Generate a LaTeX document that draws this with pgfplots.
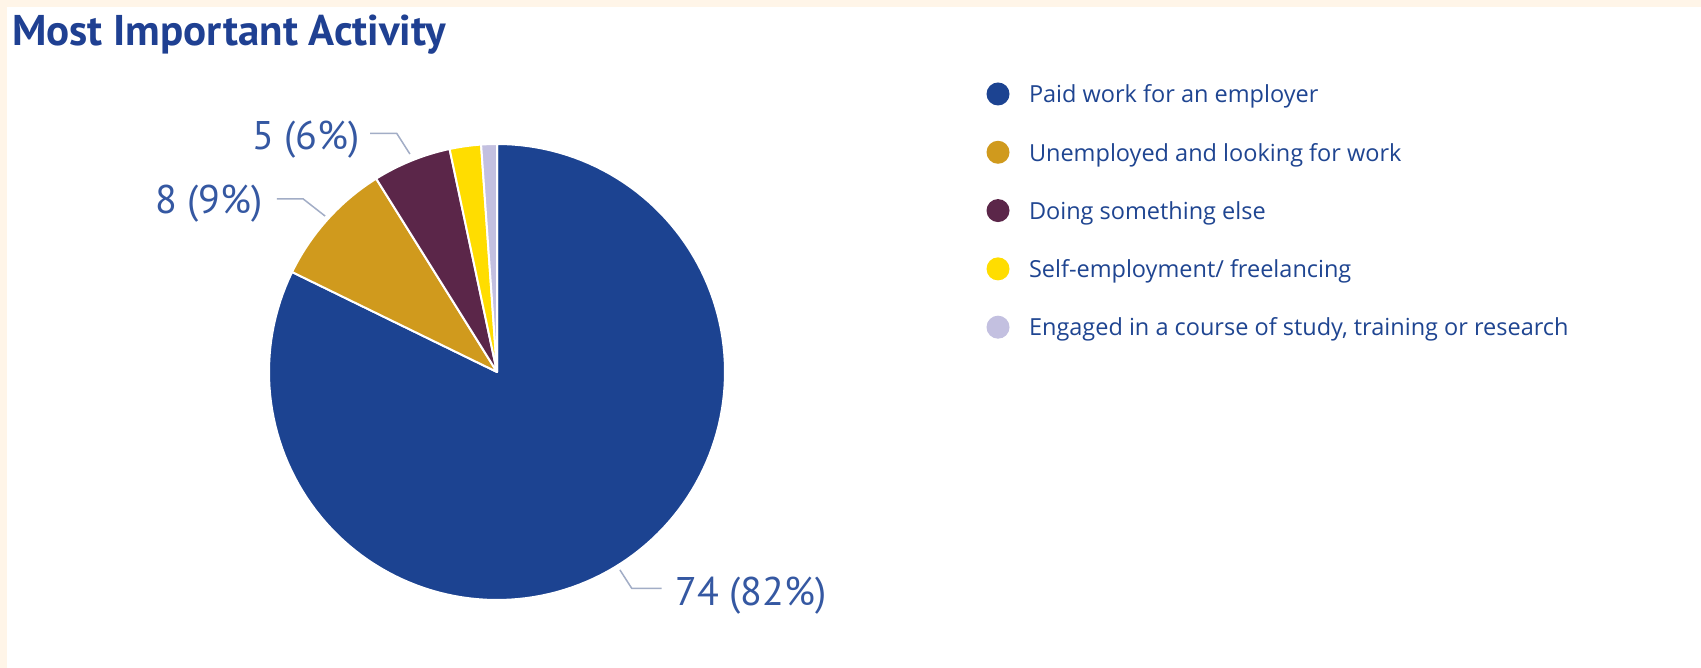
\documentclass[border=0pt]{standalone}
\usepackage{pgfplots}
\pgfplotsset{compat=1.18}
\usepackage{pgfplotstable}
\usepackage{fontspec}
\setmainfont{Open Sans}
\newfontfamily\legendfont{Open Sans}
\newfontfamily\labelfont{PT Sans}
\newfontfamily\titlefont{PT Sans}

\definecolor{slice0}{HTML}{1C4391}
\definecolor{slice1}{HTML}{D09A1D}
\definecolor{slice2}{HTML}{5B2649}
\definecolor{slice3}{HTML}{FFDD00}
\definecolor{slice4}{HTML}{C3C0E0}
\definecolor{cream}{HTML}{FFF5E8}
\definecolor{titleblue}{HTML}{1F4092}
\definecolor{legendblue}{HTML}{1F4591}
\definecolor{labelblue}{HTML}{3558A2}
\definecolor{leader}{HTML}{A2ADC6}

\pgfplotstableread{
value
74
8
5
2
1
}\piedata

\begin{document}
\begin{tikzpicture}
\fill[cream] (0,0) rectangle (1701bp,668bp);
\fill[white] (7bp,0) rectangle (1701bp,661bp);

% total
\def\total{0}
\pgfplotsforeachungrouped \i in {0,...,4}{%
  \pgfplotstablegetelem{\i}{value}\of\piedata
  \pgfmathsetmacro\total{\total+\pgfplotsretval}%
}

\node[anchor=base west, inner sep=0pt, text=titleblue,
      font=\titlefont\bfseries\fontsize{43bp}{48bp}\selectfont]
  at (12bp,622bp) {Most Important Activity};

\begin{axis}[
  at={(269bp,68bp)}, anchor=south west,
  scale only axis, width=456bp, height=456bp,
  xmin=-1, xmax=1, ymin=-1, ymax=1,
  hide axis, clip=false,
  legend entries={Paid work for an employer, Unemployed and looking for work, Doing something else, Self-employment/ freelancing, {Engaged in a course of study, training or research}},
  legend image code/.code={\fill[#1,draw=none] (0bp,0bp) circle (11.5bp);},
  legend cell align=left,
  legend style={at={(1.5735,1.1349)}, anchor=north west, draw=none, fill=none,
    inner sep=0pt, outer sep=0pt, row sep=35.3bp, column sep=19.5bp,
    font=\legendfont\fontsize{23.5bp}{28bp}\selectfont, text=legendblue,
    nodes={inner sep=0pt, text height=17.5bp, text depth=0pt, anchor=west}},
]
\def\cum{0}
\pgfplotsforeachungrouped \i in {0,...,4}{%
  \pgfplotstablegetelem{\i}{value}\of\piedata
  \pgfmathsetmacro\a{90-\cum/\total*360}%
  \pgfmathsetmacro\newcum{\cum+\pgfplotsretval}%
  \pgfmathsetmacro\b{90-\newcum/\total*360}%
  \edef\doplot{\noexpand\addplot[fill=slice\i, draw=white, line width=2bp, line join=round,
     domain=\b:\a, samples=150, variable=\noexpand\t]
     ({cos(\noexpand\t)},{sin(\noexpand\t)}) -- (axis cs:0,0) -- cycle;}%
  \doplot
  \global\let\cum\newcum
}
% leader lines
\addplot[leader, line width=1.5bp, forget plot] coordinates {(-0.557,1.047) (-0.440,1.047) (-0.382,0.956)};
\addplot[leader, line width=1.5bp, forget plot] coordinates {(-0.966,0.759) (-0.850,0.759) (-0.754,0.684)};
\addplot[leader, line width=1.5bp, forget plot] coordinates {(0.539,-0.868) (0.591,-0.949) (0.722,-0.949)};
% data labels
\node[anchor=base east, inner sep=0pt, text=labelblue, font=\labelfont\fontsize{40bp}{46bp}\selectfont] at (axis cs:-0.601,0.974) {5 (6\%)};
\node[anchor=base east, inner sep=0pt, text=labelblue, font=\labelfont\fontsize{40bp}{46bp}\selectfont] at (axis cs:-1.026,0.693) {8 (9\%)};
\node[anchor=base west, inner sep=0pt, text=labelblue, font=\labelfont\fontsize{40bp}{46bp}\selectfont] at (axis cs:0.781,-1.022) {74 (82\%)};
\end{axis}
\pgfresetboundingbox
\useasboundingbox (0,0) rectangle (1701bp,668bp);
\end{tikzpicture}
\end{document}
